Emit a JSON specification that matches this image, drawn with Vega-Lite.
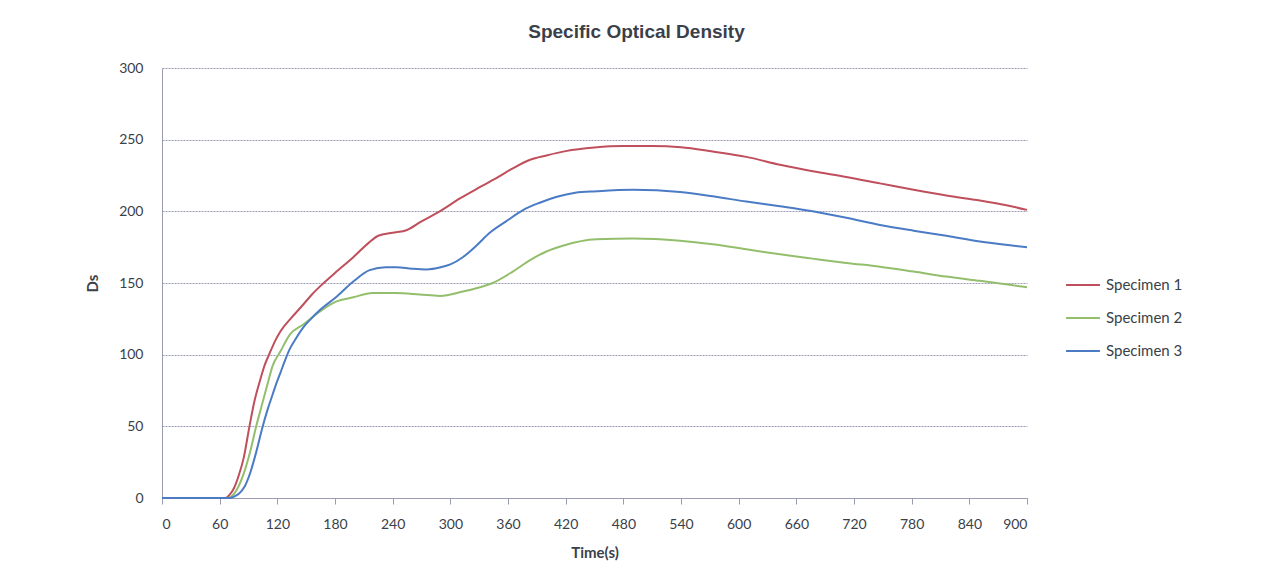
{
  "$schema": "https://vega.github.io/schema/vega-lite/v6.json",
  "width": 865,
  "height": 430,
  "autosize": {"type": "none"},
  "padding": {"left": 162, "top": 68, "right": 238, "bottom": 80},
  "background": "white",
  "config": {
    "font": "Lato",
    "view": {"stroke": null}
  },
  "title": {
    "text": "Specific Optical Density",
    "font": "Liberation Sans",
    "fontSize": 19,
    "fontWeight": "bold",
    "color": "#3a3f4a",
    "anchor": "middle",
    "dx": 42,
    "offset": 19
  },
  "data": {
    "values": [
      {"s": "Specimen 1", "t": 0, "ds": 0}, {"s": "Specimen 1", "t": 66, "ds": 0}, {"s": "Specimen 1", "t": 70, "ds": 2}, {"s": "Specimen 1", "t": 75, "ds": 7}, {"s": "Specimen 1", "t": 80, "ds": 16}, {"s": "Specimen 1", "t": 85, "ds": 28}, {"s": "Specimen 1", "t": 91, "ds": 50}, {"s": "Specimen 1", "t": 96, "ds": 67}, {"s": "Specimen 1", "t": 102, "ds": 82}, {"s": "Specimen 1", "t": 107, "ds": 93}, {"s": "Specimen 1", "t": 112, "ds": 101}, {"s": "Specimen 1", "t": 118, "ds": 110}, {"s": "Specimen 1", "t": 123, "ds": 116}, {"s": "Specimen 1", "t": 135, "ds": 126}, {"s": "Specimen 1", "t": 147, "ds": 135}, {"s": "Specimen 1", "t": 156, "ds": 142}, {"s": "Specimen 1", "t": 165, "ds": 148}, {"s": "Specimen 1", "t": 180, "ds": 157}, {"s": "Specimen 1", "t": 199, "ds": 168}, {"s": "Specimen 1", "t": 215, "ds": 178}, {"s": "Specimen 1", "t": 225, "ds": 183}, {"s": "Specimen 1", "t": 240, "ds": 185}, {"s": "Specimen 1", "t": 255, "ds": 187}, {"s": "Specimen 1", "t": 270, "ds": 193}, {"s": "Specimen 1", "t": 289, "ds": 200}, {"s": "Specimen 1", "t": 310, "ds": 209}, {"s": "Specimen 1", "t": 331, "ds": 217}, {"s": "Specimen 1", "t": 350, "ds": 224}, {"s": "Specimen 1", "t": 365, "ds": 230}, {"s": "Specimen 1", "t": 383, "ds": 236}, {"s": "Specimen 1", "t": 400, "ds": 239}, {"s": "Specimen 1", "t": 420, "ds": 242}, {"s": "Specimen 1", "t": 450, "ds": 244.5}, {"s": "Specimen 1", "t": 480, "ds": 245.5}, {"s": "Specimen 1", "t": 510, "ds": 245.5}, {"s": "Specimen 1", "t": 540, "ds": 244.7}, {"s": "Specimen 1", "t": 573, "ds": 241.7}, {"s": "Specimen 1", "t": 608, "ds": 238}, {"s": "Specimen 1", "t": 643, "ds": 232.5}, {"s": "Specimen 1", "t": 677, "ds": 228}, {"s": "Specimen 1", "t": 712, "ds": 224}, {"s": "Specimen 1", "t": 747, "ds": 219.5}, {"s": "Specimen 1", "t": 782, "ds": 215}, {"s": "Specimen 1", "t": 816, "ds": 211}, {"s": "Specimen 1", "t": 851, "ds": 207.5}, {"s": "Specimen 1", "t": 880, "ds": 204}, {"s": "Specimen 1", "t": 900, "ds": 201},
      {"s": "Specimen 2", "t": 0, "ds": 0}, {"s": "Specimen 2", "t": 68, "ds": 0}, {"s": "Specimen 2", "t": 72, "ds": 1}, {"s": "Specimen 2", "t": 78, "ds": 6}, {"s": "Specimen 2", "t": 85, "ds": 17}, {"s": "Specimen 2", "t": 92, "ds": 33}, {"s": "Specimen 2", "t": 98, "ds": 50}, {"s": "Specimen 2", "t": 104, "ds": 65}, {"s": "Specimen 2", "t": 110, "ds": 80}, {"s": "Specimen 2", "t": 115, "ds": 92}, {"s": "Specimen 2", "t": 123, "ds": 102}, {"s": "Specimen 2", "t": 133, "ds": 114}, {"s": "Specimen 2", "t": 147, "ds": 121}, {"s": "Specimen 2", "t": 164, "ds": 130}, {"s": "Specimen 2", "t": 181, "ds": 137}, {"s": "Specimen 2", "t": 199, "ds": 140}, {"s": "Specimen 2", "t": 219, "ds": 143}, {"s": "Specimen 2", "t": 244, "ds": 143}, {"s": "Specimen 2", "t": 268, "ds": 142}, {"s": "Specimen 2", "t": 289, "ds": 141}, {"s": "Specimen 2", "t": 313, "ds": 144}, {"s": "Specimen 2", "t": 328, "ds": 146.5}, {"s": "Specimen 2", "t": 344, "ds": 150}, {"s": "Specimen 2", "t": 365, "ds": 158}, {"s": "Specimen 2", "t": 383, "ds": 166}, {"s": "Specimen 2", "t": 400, "ds": 172}, {"s": "Specimen 2", "t": 417, "ds": 176}, {"s": "Specimen 2", "t": 452, "ds": 180.5}, {"s": "Specimen 2", "t": 490, "ds": 181}, {"s": "Specimen 2", "t": 539, "ds": 179.5}, {"s": "Specimen 2", "t": 573, "ds": 177}, {"s": "Specimen 2", "t": 608, "ds": 173.5}, {"s": "Specimen 2", "t": 643, "ds": 170}, {"s": "Specimen 2", "t": 677, "ds": 167}, {"s": "Specimen 2", "t": 712, "ds": 164}, {"s": "Specimen 2", "t": 747, "ds": 161.4}, {"s": "Specimen 2", "t": 782, "ds": 158}, {"s": "Specimen 2", "t": 816, "ds": 154.5}, {"s": "Specimen 2", "t": 851, "ds": 151.5}, {"s": "Specimen 2", "t": 880, "ds": 149}, {"s": "Specimen 2", "t": 900, "ds": 147},
      {"s": "Specimen 3", "t": 0, "ds": 0}, {"s": "Specimen 3", "t": 70, "ds": 0}, {"s": "Specimen 3", "t": 75, "ds": 1}, {"s": "Specimen 3", "t": 80, "ds": 3}, {"s": "Specimen 3", "t": 86, "ds": 8}, {"s": "Specimen 3", "t": 92, "ds": 18}, {"s": "Specimen 3", "t": 98, "ds": 32}, {"s": "Specimen 3", "t": 104, "ds": 48}, {"s": "Specimen 3", "t": 110, "ds": 62}, {"s": "Specimen 3", "t": 115, "ds": 72}, {"s": "Specimen 3", "t": 119, "ds": 80}, {"s": "Specimen 3", "t": 123, "ds": 87}, {"s": "Specimen 3", "t": 128, "ds": 96}, {"s": "Specimen 3", "t": 133, "ds": 104}, {"s": "Specimen 3", "t": 140, "ds": 112}, {"s": "Specimen 3", "t": 147, "ds": 119}, {"s": "Specimen 3", "t": 155, "ds": 125}, {"s": "Specimen 3", "t": 164, "ds": 131}, {"s": "Specimen 3", "t": 181, "ds": 140}, {"s": "Specimen 3", "t": 199, "ds": 151}, {"s": "Specimen 3", "t": 216, "ds": 159}, {"s": "Specimen 3", "t": 233, "ds": 161}, {"s": "Specimen 3", "t": 244, "ds": 161}, {"s": "Specimen 3", "t": 260, "ds": 160}, {"s": "Specimen 3", "t": 275, "ds": 159.5}, {"s": "Specimen 3", "t": 290, "ds": 161}, {"s": "Specimen 3", "t": 300, "ds": 163}, {"s": "Specimen 3", "t": 313, "ds": 168}, {"s": "Specimen 3", "t": 327, "ds": 176}, {"s": "Specimen 3", "t": 341, "ds": 185}, {"s": "Specimen 3", "t": 358, "ds": 193}, {"s": "Specimen 3", "t": 376, "ds": 201}, {"s": "Specimen 3", "t": 393, "ds": 206}, {"s": "Specimen 3", "t": 410, "ds": 210}, {"s": "Specimen 3", "t": 430, "ds": 213}, {"s": "Specimen 3", "t": 452, "ds": 214}, {"s": "Specimen 3", "t": 490, "ds": 215}, {"s": "Specimen 3", "t": 539, "ds": 213.5}, {"s": "Specimen 3", "t": 573, "ds": 210.5}, {"s": "Specimen 3", "t": 608, "ds": 206.8}, {"s": "Specimen 3", "t": 643, "ds": 203.5}, {"s": "Specimen 3", "t": 677, "ds": 200}, {"s": "Specimen 3", "t": 712, "ds": 195.5}, {"s": "Specimen 3", "t": 747, "ds": 190.5}, {"s": "Specimen 3", "t": 782, "ds": 186.5}, {"s": "Specimen 3", "t": 816, "ds": 183}, {"s": "Specimen 3", "t": 851, "ds": 179}, {"s": "Specimen 3", "t": 880, "ds": 176.5}, {"s": "Specimen 3", "t": 900, "ds": 175}
    ]
  },
  "mark": {"type": "line", "strokeWidth": 2, "interpolate": "monotone"},
  "encoding": {
    "x": {
      "field": "t",
      "type": "quantitative",
      "scale": {"domain": [0, 900], "nice": false},
      "axis": {
        "title": "Time(s)",
        "values": [0, 60, 120, 180, 240, 300, 360, 420, 480, 540, 600, 660, 720, 780, 840, 900],
        "grid": false,
        "domainColor": "#9a9ab0",
        "tickColor": "#9a9ab0",
        "tickSize": 6,
        "labelFontSize": 14,
        "labelColor": "#3a3f4a",
        "labelPadding": 13,
        "titleFontSize": 15,
        "titleFontWeight": "bold",
        "titleColor": "#3a3f4a",
        "titlePadding": 14
      }
    },
    "y": {
      "field": "ds",
      "type": "quantitative",
      "scale": {"domain": [0, 300], "nice": false},
      "axis": {
        "title": "Ds",
        "values": [0, 50, 100, 150, 200, 250, 300],
        "grid": true,
        "gridColor": "#9a9ab8",
        "gridDash": [2, 1],
        "gridWidth": 1,
        "domainColor": "#9a9ab0",
        "ticks": false,
        "labelFontSize": 14,
        "labelColor": "#3a3f4a",
        "labelPadding": 19,
        "titleFontSize": 15,
        "titleFontWeight": "bold",
        "titleColor": "#3a3f4a",
        "titlePadding": 18
      }
    },
    "color": {
      "field": "s",
      "type": "nominal",
      "scale": {"domain": ["Specimen 1", "Specimen 2", "Specimen 3"], "range": ["#BF4F5C", "#93BE6C", "#4A7BC4"]},
      "legend": {
        "title": null,
        "orient": "none",
        "legendX": 903,
        "legendY": 199,
        "symbolType": "stroke",
        "symbolSize": 1150,
        "symbolStrokeWidth": 2,
        "rowPadding": 7,
        "labelFontSize": 15,
        "labelColor": "#3a3f4a",
        "labelOffset": 5
      }
    }
  }
}
